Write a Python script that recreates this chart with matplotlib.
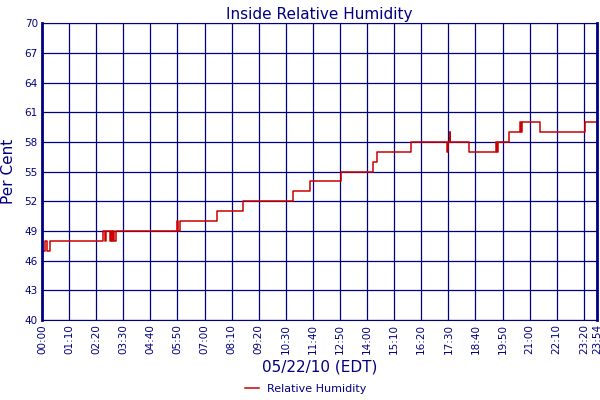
import matplotlib
matplotlib.use("Agg")
import matplotlib.pyplot as plt

times = [0, 8, 13, 20, 24, 158, 162, 166, 170, 175, 178, 181, 184, 186, 191,
         349, 352, 356, 359, 449, 452, 455, 517, 519, 649, 692, 773, 855, 860, 866,
         953, 1046, 1049, 1053, 1055, 1057, 1103, 1173, 1176, 1178, 1181, 1207,
         1235, 1237, 1240, 1243, 1287, 1290, 1403, 1434]
values = [47, 48, 47, 48, 48, 49, 48, 49, 49, 48, 49, 48, 49, 48, 49,
          50, 49, 50, 50, 50, 51, 51, 51, 52, 53, 54, 55, 56, 56, 57,
          58, 57, 58, 59, 58, 58, 57, 58, 57, 58, 58, 59,
          60, 59, 60, 60, 59, 59, 60, 60]
tick_labels = ["00:00", "01:10", "02:20", "03:30", "04:40", "05:50", "07:00", "08:10",
               "09:20", "10:30", "11:40", "12:50", "14:00", "15:10", "16:20", "17:30",
               "18:40", "19:50", "21:00", "22:10", "23:20", "23:54"]
tick_pos = [i * 70 for i in range(21)] + [1434]
yticks = [40, 43, 46, 49, 52, 55, 58, 61, 64, 67, 70]

navy = "#000080"
fig = plt.figure(figsize=(6, 4), dpi=100)
ax = fig.add_axes([0.07, 0.2, 0.925, 0.742])
ax.plot(times, values, drawstyle="steps-post", color="#cc0000", lw=1.1,
        label="Relative Humidity")
ax.set_xlim(0, 1434)
ax.set_ylim(40, 70)
ax.set_xticks(tick_pos)
ax.set_xticklabels(tick_labels, rotation=90, fontsize=7.5, color=navy)
ax.set_yticks(yticks)
ax.set_yticklabels([str(y) for y in yticks], fontsize=7.5, color=navy)
ax.tick_params(length=0, pad=3)
ax.grid(True, color=navy, lw=0.9)
for s in ax.spines.values():
    s.set_color(navy)
ax.spines["left"].set_linewidth(2)
ax.spines["right"].set_linewidth(2)
ax.set_title("Inside Relative Humidity", color=navy, fontsize=11, pad=3)
ax.set_ylabel("Per Cent", color=navy, fontsize=11, labelpad=6)
ax.set_xlabel("05/22/10 (EDT)", color=navy, fontsize=11, labelpad=4)
fig.legend(loc="lower center", bbox_to_anchor=(0.51, -0.01), frameon=False,
           fontsize=8, labelcolor=navy, handlelength=1.2)
fig.savefig("out.png")
